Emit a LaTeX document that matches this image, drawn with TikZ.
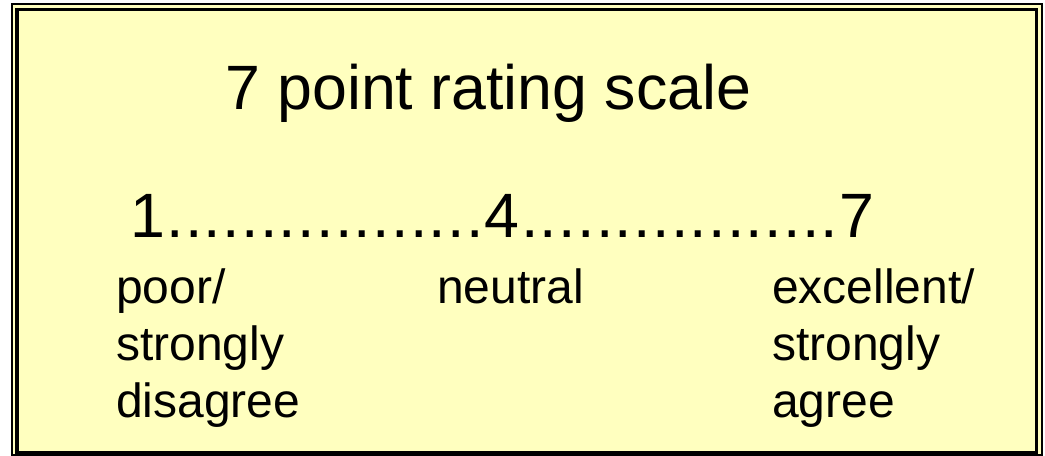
\documentclass[tikz,border=0pt]{standalone}
\usepackage{fontspec}
\setmainfont{Liberation Sans}
\newfontfamily\spacedfont[LetterSpace=2.1]{Liberation Sans}
\usetikzlibrary{positioning}
\definecolor{cream}{HTML}{FFFFBF}
\definecolor{ink}{HTML}{000000}

\begin{document}
\begin{tikzpicture}[
  x=0.75pt,y=-0.75pt,
  big/.style={inner sep=0pt,text=ink,anchor=base west,
              font=\fontsize{47}{56}\selectfont},
  lbl/.style={inner sep=0pt,text=ink,align=left,anchor=base west,
              font=\fontsize{36}{42.75}\selectfont},
]
\useasboundingbox (0,0) rectangle (1045,456);

% Double frame
\draw[ink,line width=1.2pt,fill=cream] (12,4) rectangle (1042,455);
\draw[ink,line width=2.4pt] (17,9.5) rectangle (1036.5,452.5);

% Title and scale
\node[big] (title) at (225,110) {7 point rating scale};
\node[big,font=\spacedfont\fontsize{47}{56}\selectfont] (scale) at (130,237)
  {1.................4.................7};

% Anchor labels (base = last line)
\node[lbl] (low) at (116,417) {poor/\\strongly\\disagree};
\node[lbl] (mid) at (437,303) {neutral};
\node[lbl] (high) at (772,417) {excellent/\\strongly\\agree};

\end{tikzpicture}
\end{document}
